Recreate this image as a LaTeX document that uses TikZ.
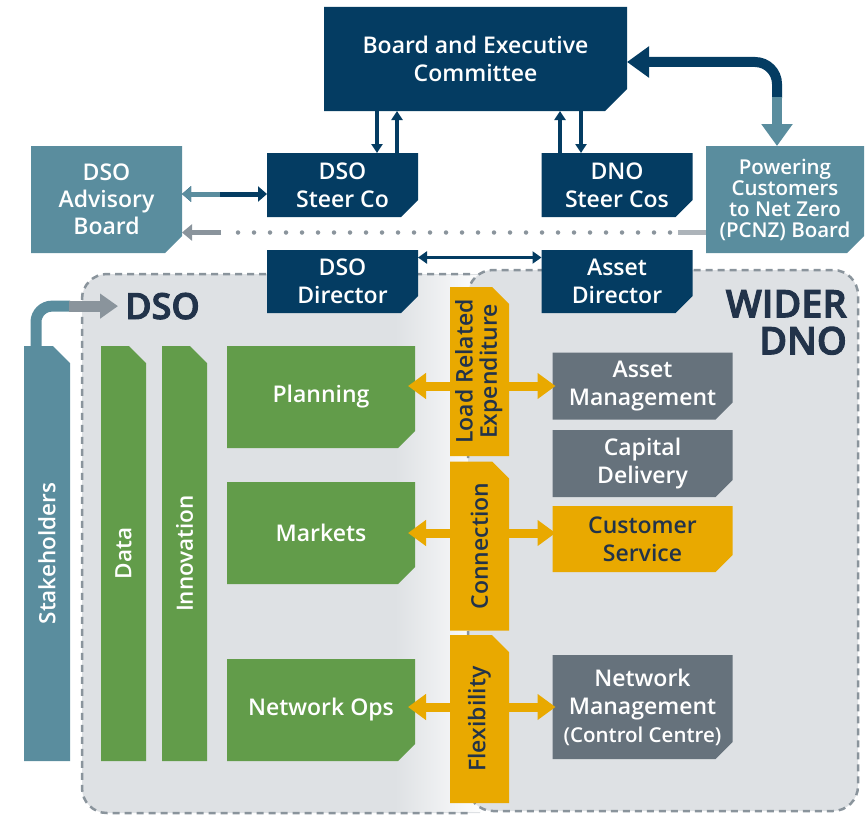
\documentclass[tikz,border=0pt]{standalone}
\usepackage{fontspec}
\IfFontExistsTF{Open Sans SemiBold}
  {\setmainfont{Open Sans}[BoldFont={Open Sans SemiBold}]
   \newfontfamily\heavyfont{Open Sans SemiBold}[FakeBold=2.5]}
  {\IfFontExistsTF{Open Sans Semibold}
    {\setmainfont{Open Sans}[BoldFont={Open Sans Semibold}]
     \newfontfamily\heavyfont{Open Sans Semibold}[FakeBold=2.5]}
    {\setmainfont{Open Sans}
     \newfontfamily\heavyfont{Open Sans}[FakeBold=3.5]}}
\usepackage{tikz}
\usetikzlibrary{calc,positioning,arrows.meta}

\definecolor{navy}{HTML}{043C62}
\definecolor{steel}{HTML}{5A8D9E}
\definecolor{leaf}{HTML}{629C4A}
\definecolor{amber}{HTML}{E9A900}
\definecolor{slate}{HTML}{66727C}
\definecolor{zonefill}{HTML}{DEE1E4}
\definecolor{ink}{HTML}{22334A}
\definecolor{ash}{HTML}{8A949C}

\tikzset{
  cut/.store in=\cutsz, cut=17pt,
  box/.style={rectangle, inner sep=0pt, outer sep=0pt, align=center, text=white,
              font=\bfseries\fontsize{23}{28}\selectfont},
  cutse/.style={box, path picture={\fill[#1] (path picture bounding box.north west)
      -- (path picture bounding box.north east)
      -- ([yshift=\cutsz]path picture bounding box.south east)
      -- ([xshift=-\cutsz]path picture bounding box.south east)
      -- (path picture bounding box.south west) -- cycle;}},
  cutne/.style={box, path picture={\fill[#1] (path picture bounding box.south west)
      -- (path picture bounding box.north west)
      -- ([xshift=-\cutsz]path picture bounding box.north east)
      -- ([yshift=-\cutsz]path picture bounding box.north east)
      -- (path picture bounding box.south east) -- cycle;}}
}
\tikzstyle{navybox}  = [cutse=navy]
\tikzstyle{steelbox} = [cutse=steel]
\tikzstyle{leafbox}  = [cutse=leaf]
\tikzstyle{slatebox} = [cutse=slate, font=\bfseries\fontsize{23}{28}\selectfont]
\tikzstyle{amberbox} = [cutse=amber, text=ink, font=\bfseries\fontsize{23}{28}\selectfont]
\tikzstyle{leafbar}  = [cutne=leaf, font=\bfseries\fontsize{22.5}{24}\selectfont]
\tikzstyle{amberbar} = [cutne=amber, text=ink, font=\bfseries\fontsize{23}{23}\selectfont]
\tikzstyle{steelbar} = [cutne=steel, font=\bfseries\fontsize{22.5}{24}\selectfont]
\tikzstyle{zoneline} = [draw=ash, line width=2.5pt, dash pattern=on 7pt off 5pt]

\begin{document}
\begin{tikzpicture}[x=1pt,y=-1pt,
    navyarrow/.style={draw=navy, line width=3.5pt, -{Triangle[width=11pt,length=9pt]}},
    amberarrow/.style={draw=amber, line width=9pt, -{Triangle[width=25pt,length=18pt]}},
    bigtip/.style={-{Triangle[width=30pt,length=22pt]}}
  ]
  \useasboundingbox (0,0) rectangle (867,816);

  % the two zones
  \fill[zonefill] (480,274) [rounded corners=25pt] -- (82,274) -- (82,813) [sharp corners] -- (480,813) -- cycle;
  \shade[left color=zonefill, right color=white!93!zonefill] (395,275.5) rectangle (480,811.5);
  \draw[zoneline] (470,274) [rounded corners=25pt] -- (82,274) -- (82,813) -- (470,813);
  \draw[zoneline, fill=zonefill, rounded corners=25pt] (468,270) rectangle (858,811);

  \node[anchor=base west, inner sep=0pt, text=ink, font=\heavyfont\fontsize{36}{36}\selectfont] (dsolbl) at (125,319) {DSO};
  \node[anchor=north east, inner sep=0pt, align=right, text=ink, font=\heavyfont\fontsize{38}{37}\selectfont] (dnolbl) at (847,290) {WIDER\\DNO};

  % governance
  \node[navybox, cut=22pt, minimum width=303pt, minimum height=104pt] (board) at (475.5,59) {Board and Executive\\Committee};
  \node[navybox, minimum width=151pt, minimum height=64pt] (dsosteer) at (342.5,185) {DSO\\Steer Co};
  \node[navybox, minimum width=151pt, minimum height=64pt] (dnosteer) at (617,185) {DNO\\Steer Cos};
  \node[steelbox, minimum width=151pt, minimum height=107pt, font=\bfseries\fontsize{23}{27}\selectfont] (advisory) at (106.5,199.5) {DSO\\Advisory\\Board};
  \node[steelbox, minimum width=158pt, minimum height=107pt, font=\bfseries\fontsize{20.5}{21}\selectfont] (pcnz) at (785,199.5) {Powering\\Customers\\to Net Zero\\(PCNZ) Board};
  \node[navybox, minimum width=151pt, minimum height=63pt] (dsodir) at (342.5,281.5) {DSO\\Director};
  \node[navybox, minimum width=151pt, minimum height=63pt] (assetdir) at (617,281.5) {Asset\\Director};

  % DSO side
  \node[steelbar, minimum width=46pt, minimum height=415pt] (stake) at (47,553.5) {\rotatebox{90}{Stakeholders}};
  \node[leafbar, minimum width=45pt, minimum height=415pt] (data) at (123.5,553.5) {\rotatebox{90}{Data}};
  \node[leafbar, minimum width=45pt, minimum height=415pt] (innov) at (184.5,553.5) {\rotatebox{90}{Innovation}};
  \node[leafbox, minimum width=188pt, minimum height=102pt] (planning) at (321,397) {Planning};
  \node[leafbox, minimum width=188pt, minimum height=102pt] (markets) at (321,533) {Markets};
  \node[leafbox, minimum width=188pt, minimum height=102pt] (netops) at (321,710) {Network Ops};

  % interfaces
  \node[amberbar, minimum width=59pt, minimum height=169pt] (lre) at (479.5,371.5) {\rotatebox{90}{\begin{tabular}{@{}c@{}}Load Related\\Expenditure\end{tabular}}};
  \node[amberbar, minimum width=59pt, minimum height=169pt] (conn) at (479.5,546) {\rotatebox{90}{Connection}};
  \node[amberbar, minimum width=59pt, minimum height=168pt] (flex) at (479.5,719) {\rotatebox{90}{Flexibility}};

  % wider DNO side
  \node[slatebox, minimum width=180pt, minimum height=67pt] (assetmgmt) at (642.5,386) {Asset\\Management};
  \node[slatebox, minimum width=180pt, minimum height=67pt] (capital) at (642.5,463.5) {Capital\\Delivery};
  \node[amberbox, minimum width=180pt, minimum height=66pt] (custserv) at (642.5,539) {Customer\\Service};
  \node[slatebox, minimum width=180pt, minimum height=104pt] (netmgmt) at (642.5,707) {Network\\Management\\{\fontsize{20.5}{28}\selectfont(Control Centre)}};

  % board links
  \draw[navyarrow] ([xshift=34.5pt]dsosteer.north |- board.south) -- ([xshift=34.5pt]dsosteer.north);
  \draw[navyarrow] ([xshift=54.5pt]dsosteer.north) -- ([xshift=54.5pt]dsosteer.north |- board.south);
  \draw[navyarrow] ([xshift=-57pt]dnosteer.north) -- ([xshift=-57pt]dnosteer.north |- board.south);
  \draw[navyarrow] ([xshift=-36pt]dnosteer.north |- board.south) -- ([xshift=-36pt]dnosteer.north);

  \coordinate (pcbend) at ([xshift=-8pt,yshift=48pt]pcnz.north);
  \draw[navy, line width=10pt, rounded corners=22pt, bigtip] (pcbend) |- ([yshift=-3pt]board.east);
  \draw[steel, line width=10pt, bigtip] ([yshift=1pt]pcbend) -- ([xshift=-8pt]pcnz.north);

  \coordinate (advR) at ([yshift=-9pt]dsosteer.west);
  \coordinate (advL) at (advisory.east |- advR);
  \draw[navy, line width=5pt, {Triangle[width=15pt,length=9pt]}-{Triangle[width=15pt,length=9pt]}] (advL) -- (advR);
  \draw[steel, line width=5pt, -{Triangle[width=15pt,length=9pt]}] ($(advL)!.45!(advR)$) -- (advL);

  \draw[navy, line width=3pt, {Triangle[width=12pt,length=9pt]}-{Triangle[width=12pt,length=9pt]}] ([yshift=24pt]dsodir.east) -- ([yshift=24pt]assetdir.west);

  % reporting line
  \coordinate (dotR) at ([yshift=-33pt]pcnz.west);
  \coordinate (dotL) at (advisory.east |- dotR);
  \draw[ash!70, line width=5pt] (dotR) -- ([xshift=-28pt]dotR);
  \draw[ash, line width=4.5pt, line cap=round, dash pattern=on 0pt off 16pt] ([xshift=-36pt]dotR) -- ([xshift=44pt]dotL);
  \draw[ash, line width=5pt, -{Triangle[width=16pt,length=10pt]}] ([xshift=39pt]dotL) -- (dotL);

  % stakeholders
  \draw[steel, line width=11pt, rounded corners=16pt] ([xshift=-11pt]stake.north) |- ([xshift=-55pt]dsolbl.west);
  \draw[ash, line width=11pt, -{Triangle[width=24pt,length=18pt]}] ([xshift=-56pt]dsolbl.west) -- ([xshift=-7pt]dsolbl.west);

  % interface arrows
  \draw[amberarrow] (assetmgmt.west -| lre.west) -- ([xshift=-7pt]assetmgmt.west -| planning.east);
  \draw[amberarrow] (assetmgmt.west -| lre.east) -- ([xshift=3pt]assetmgmt.west);
  \draw[amberarrow] (markets.east -| conn.west) -- ([xshift=-7pt]markets.east);
  \draw[amberarrow] (markets.east -| conn.east) -- ([xshift=3pt]markets.east -| custserv.west);
  \draw[amberarrow] (netmgmt.west -| flex.west) -- ([xshift=-7pt]netmgmt.west -| netops.east);
  \draw[amberarrow] (netmgmt.west -| flex.east) -- ([xshift=3pt]netmgmt.west);
\end{tikzpicture}
\end{document}
